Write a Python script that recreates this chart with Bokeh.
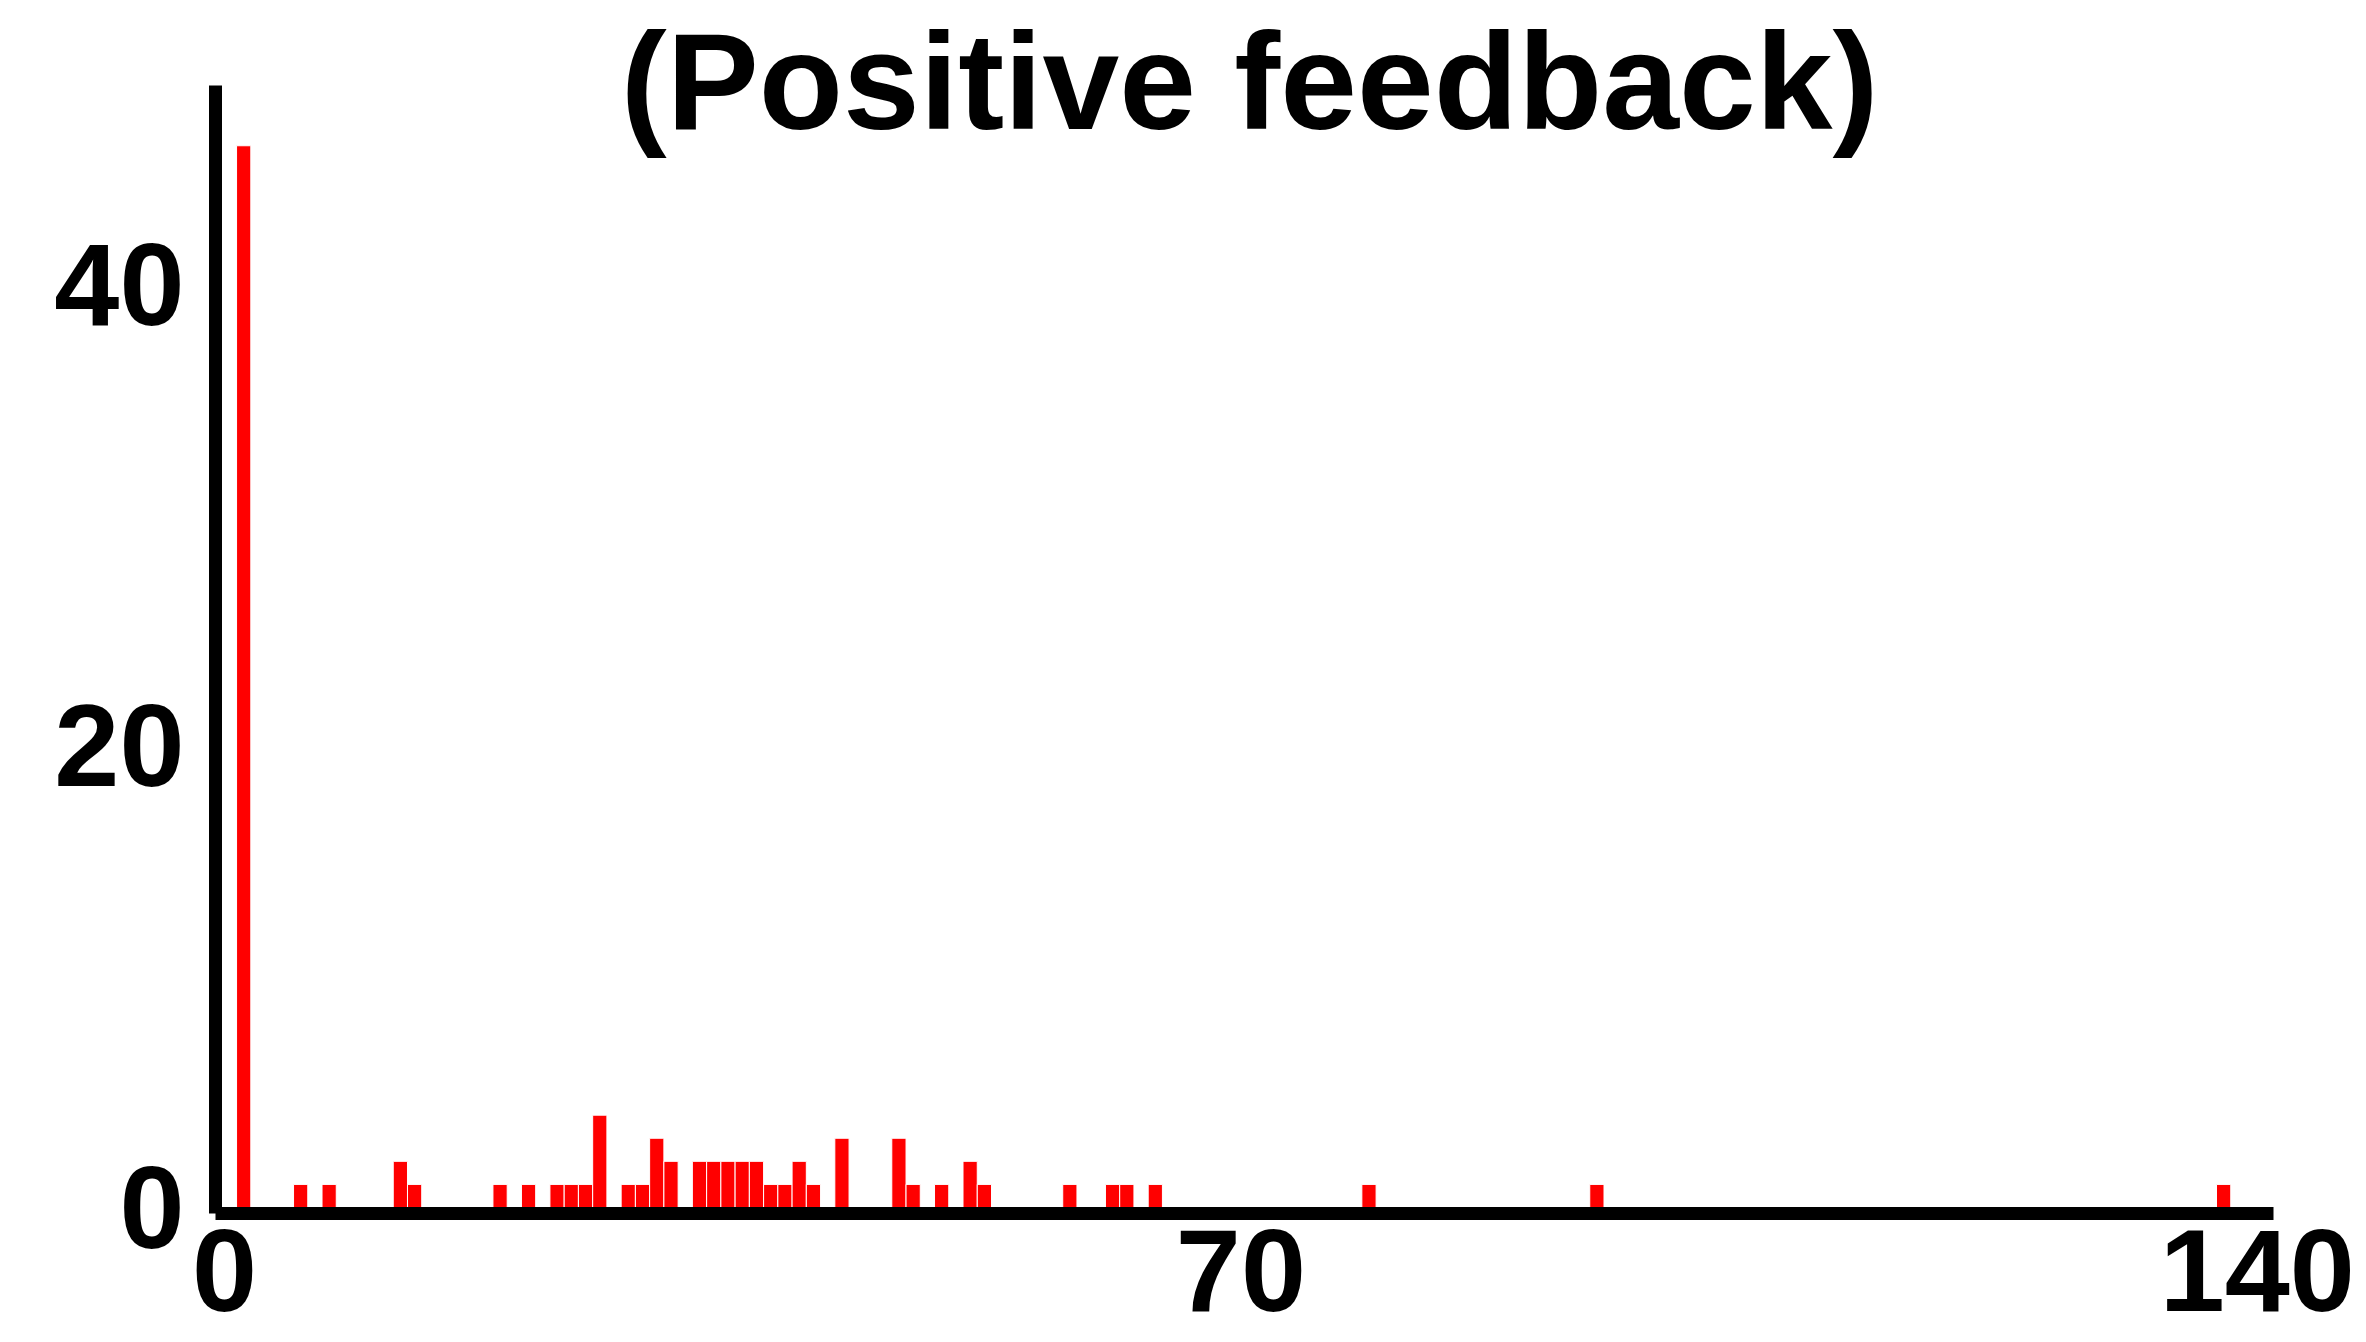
from bokeh.plotting import figure
from bokeh.models import FixedTicker, Range1d, Label, ColumnDataSource
from bokeh.embed import file_html
from bokeh.resources import INLINE

# ---- data ----
title_text = "(Positive feedback)"
bin_index = [0, 4, 6, 11, 12, 18, 20, 22, 23, 24, 25, 27, 28, 29, 30, 32, 33, 34,
             35, 36, 37, 38, 39, 40, 42, 46, 47, 49, 51, 52, 58, 61, 62, 64, 79, 95, 139]
counts = [46, 1, 1, 2, 1, 1, 1, 1, 1, 1, 4, 1, 1, 3, 2, 2, 2, 2,
          2, 2, 1, 1, 2, 1, 3, 3, 1, 1, 2, 1, 1, 1, 1, 1, 1, 1, 1]
x_ticks = [0, 70, 140]
y_ticks = [0, 20, 40]

FIRST_EDGE = 0.83   # left edge of first bin (axis units)
BIN_WIDTH = 0.981   # bin width (axis units)

lefts = [FIRST_EDGE + BIN_WIDTH * k for k in bin_index]
rights = [l + BIN_WIDTH for l in lefts]
src = ColumnDataSource(dict(left=lefts, right=rights, top=counts, bottom=[0] * len(counts)))

W, H = 2366, 1342
p = figure(width=W, height=H, output_backend="svg", toolbar_location=None,
           x_range=Range1d(-0.62, 146.83), y_range=Range1d(-0.26, 51.86),
           min_border_left=215, min_border_right=10, min_border_top=10, min_border_bottom=129)
p.outline_line_color = None
p.xgrid.visible = False
p.ygrid.visible = False
p.background_fill_color = "white"
p.border_fill_color = "white"

p.quad(left="left", right="right", top="top", bottom="bottom", source=src,
       fill_color="#FF0000", line_color="white", line_width=1)

for ax in (p.xaxis[0], p.yaxis[0]):
    ax.axis_line_width = 13
    ax.axis_line_color = "black"
    ax.major_tick_line_color = None
    ax.minor_tick_line_color = None
    ax.major_tick_out = 0
    ax.major_tick_in = 0
    ax.minor_tick_out = 0
    ax.minor_tick_in = 0
    ax.major_label_text_font = "Liberation Sans"
    ax.major_label_text_font_style = "bold"
    ax.major_label_text_font_size = "117px"
    ax.major_label_text_color = "black"

p.xaxis[0].ticker = FixedTicker(ticks=x_ticks)
p.yaxis[0].ticker = FixedTicker(ticks=y_ticks)
p.xaxis[0].major_label_standoff = 16
p.yaxis[0].major_label_standoff = 31
p.xaxis[0].bounds = (-1.86, 141.1)
p.yaxis[0].bounds = (-0.78, 48.61)

p.add_layout(Label(x=70.6, y=48.81, text=title_text, text_align="center",
                   text_baseline="alphabetic", text_font="Liberation Sans",
                   text_font_style="bold", text_font_size="138px", text_color="black"))

open("out.html", "w").write(file_html(p, INLINE))
